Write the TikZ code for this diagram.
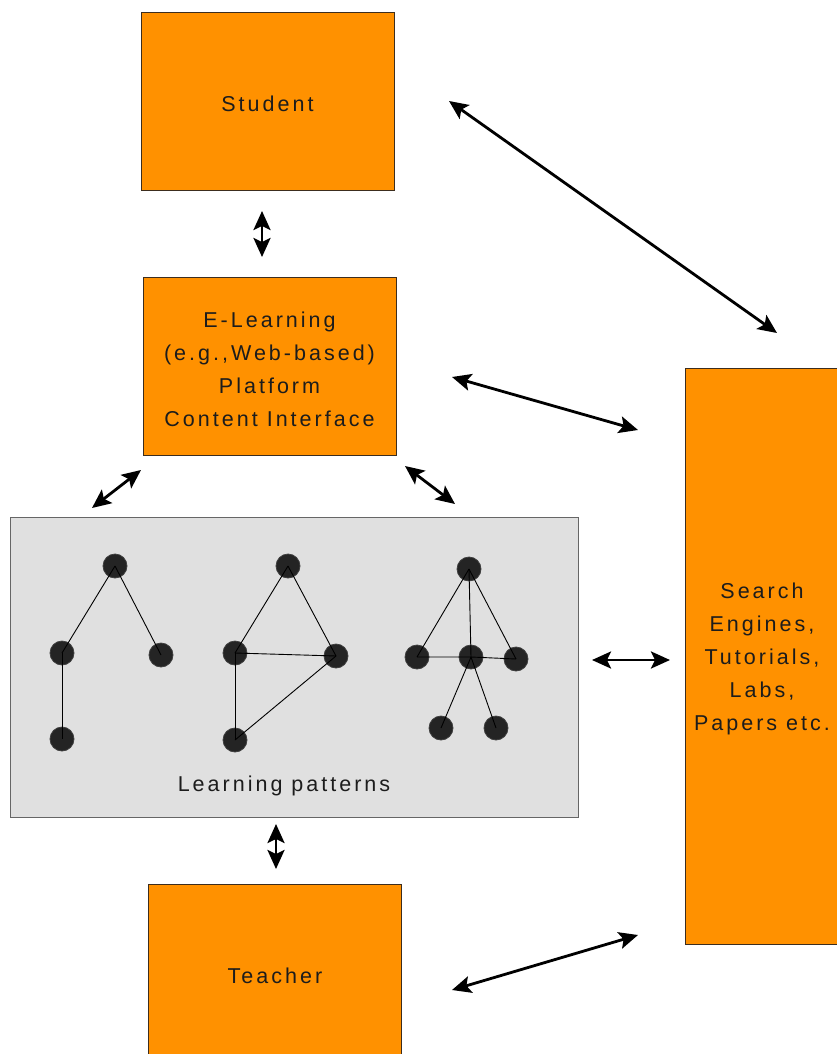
\documentclass[tikz,border=0pt]{standalone}
\usepackage{fontspec}
\setmainfont{Liberation Sans}
\newfontfamily\lblfont{Liberation Sans}[LetterSpace=14]
\usetikzlibrary{arrows.meta}
\definecolor{boxorange}{RGB}{255,145,0}
\definecolor{boxedge}{RGB}{60,45,30}
\definecolor{lpgray}{RGB}{224,224,224}
\definecolor{txt}{RGB}{28,28,28}
\definecolor{dot}{RGB}{36,36,36}
\tikzset{
  obox/.style={draw=boxedge, line width=0.9pt, fill=boxorange},
  lbl/.style={font=\lblfont\fontsize{21.5}{33}\selectfont, text=txt, align=center, inner sep=0pt},
  tip/.tip={Stealth[length=19pt,width=17pt,inset=4pt]},
  dbl/.style={line width=2.8pt, tip-tip},
  gnode/.style={circle, fill=dot, draw=dot!70!gray, line width=0.8pt, minimum size=24pt, inner sep=0pt},
  gedge/.style={line width=0.9pt, black}
}
\begin{document}
\begin{tikzpicture}[x=1pt,y=-1pt]
\clip (0,0) rectangle (837,1054);
\fill[white] (0,0) rectangle (837,1054);
% boxes
\draw[obox] (141,12) rectangle (394,190);
\node[lbl] (student) at (267.5,104) {Student};
\draw[obox] (143,277) rectangle (396,455);
\node[lbl] (elearn) at (269.5,369) {E-Learning\\(e.g.,Web-based)\\Platform\\Content Interface};
\draw[draw=gray!80!black, line width=0.9pt, fill=lpgray] (10,517) rectangle (578,817);
\node[lbl] (lp) at (284,786) {Learning patterns};
\draw[obox] (148,884) rectangle (401,1070);
\node[lbl] (teacher) at (275,976) {Teacher};
\draw[obox] (685,368) rectangle (850,944);
\node[lbl] (search) at (762,659) {Search\\Engines,\\Tutorials,\\Labs,\\Papers etc.};
% graph 1
\node[gnode] (a1) at (115,566) {};
\node[gnode] (a2) at (62,653) {};
\node[gnode] (a3) at (161,655) {};
\node[gnode] (a4) at (62,739) {};
\draw[gedge] (a1.center) -- (a2.center);
\draw[gedge] (a1.center) -- (a3.center);
\draw[gedge] (a2.center) -- (a4.center);
% graph 2
\node[gnode] (b1) at (288,566) {};
\node[gnode] (b2) at (235,653) {};
\node[gnode] (b3) at (336,656) {};
\node[gnode] (b4) at (235,740) {};
\draw[gedge] (b1.center) -- (b2.center);
\draw[gedge] (b1.center) -- (b3.center);
\draw[gedge] (b2.center) -- (b3.center);
\draw[gedge] (b2.center) -- (b4.center);
\draw[gedge] (b4.center) -- (b3.center);
% graph 3
\node[gnode] (c1) at (469,569) {};
\node[gnode] (c2) at (417,657) {};
\node[gnode] (c3) at (471,657) {};
\node[gnode] (c4) at (516,659) {};
\node[gnode] (c5) at (441,728) {};
\node[gnode] (c6) at (496,728) {};
\draw[gedge] (c1.center) -- (c2.center);
\draw[gedge] (c1.center) -- (c3.center);
\draw[gedge] (c1.center) -- (c4.center);
\draw[gedge] (c2.center) -- (c3.center) -- (c4.center);
\draw[gedge] (c3.center) -- (c5.center);
\draw[gedge] (c3.center) -- (c6.center);
% arrow end points
\coordinate (s1) at (262,211);
\coordinate (s2) at (262,257);
\coordinate (t1) at (449,101);
\coordinate (t2) at (777,333);
\coordinate (e1) at (452,377);
\coordinate (e2) at (638,430);
\coordinate (l1) at (141,470);
\coordinate (l2) at (92,508);
\coordinate (r1) at (405,466);
\coordinate (r2) at (455,504);
\coordinate (m1) at (592,660);
\coordinate (m2) at (670,660);
\coordinate (p1) at (276,824);
\coordinate (p2) at (276,869);
\coordinate (q1) at (452,990);
\coordinate (q2) at (638,935);
\draw[dbl] (s1) -- (s2);
\draw[dbl] (t1) -- (t2);
\draw[dbl] (e1) -- (e2);
\draw[dbl] (l1) -- (l2);
\draw[dbl] (r1) -- (r2);
\draw[dbl] (m1) -- (m2);
\draw[dbl] (p1) -- (p2);
\draw[dbl] (q1) -- (q2);
\end{tikzpicture}
\end{document}
